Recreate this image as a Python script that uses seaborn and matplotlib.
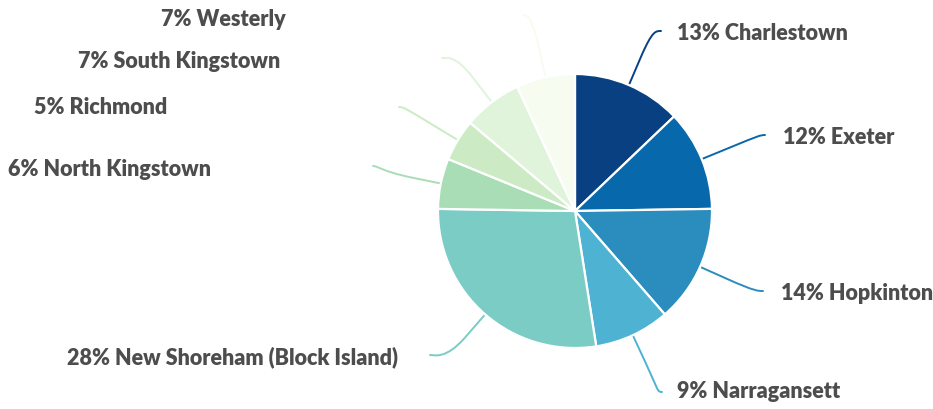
import numpy as np
import matplotlib
matplotlib.use("Agg")
import matplotlib.pyplot as plt
from matplotlib.path import Path
from matplotlib.patches import PathPatch
import seaborn as sns

# ---- data ----
towns = ["Charlestown", "Exeter", "Hopkinton", "Narragansett",
         "New Shoreham (Block Island)", "North Kingstown", "Richmond",
         "South Kingstown", "Westerly"]
shares = [13, 12, 14, 9, 28, 6, 5, 7, 7]
hex_colors = ["#084081", "#0868ac", "#2b8cbe", "#4eb3d3", "#7bccc4",
              "#a8ddb5", "#ccebc5", "#e0f3db", "#f7fcf0"]

# ---- layout (pixel space, y measured from top) ----
W, H = 933, 409
CX, CY, R = 575, 211, 137
# connector end points (label anchors)
anchor_x = [661, 765, 763, 662, 430, 373, 399, 442, 523]
anchor_y = [31, 135, 291, 392, 355, 166, 107, 58, 15]
# text positions
text_x = [677, 783, 781, 677, 398, 211, 167, 280, 286]
text_y = [33, 138, 294, 392, 357, 169, 107, 62, 19]
text_ha = ["left", "left", "left", "left", "right", "right", "right", "right", "right"]

sns.set_theme(style="white")
plt.rcParams["font.family"] = ["Lato", "DejaVu Sans"]
palette = sns.color_palette(hex_colors)

fig = plt.figure(figsize=(W / 100, H / 100), dpi=100)
ax = fig.add_axes([0, 0, 1, 1])

ax.pie(shares, colors=palette, startangle=90, counterclock=False,
       center=(CX, H - CY), radius=R,
       wedgeprops=dict(edgecolor="white", linewidth=1.6))

total = float(sum(shares))
cum = np.cumsum(shares) - np.array(shares) / 2.0
break_d = 30
for i, (name, v) in enumerate(zip(towns, shares)):
    ang = np.deg2rad(90 - 360 * cum[i] / total)
    dx, dy = np.cos(ang), np.sin(ang)
    touch = np.array([CX + R * dx, (H - CY) + R * dy])
    brk = np.array([CX + (R + break_d) * dx, (H - CY) + (R + break_d) * dy])
    lab = np.array([anchor_x[i], H - anchor_y[i]])
    off = -5 if text_ha[i] == "left" else 5
    c1 = np.array([lab[0] + off, lab[1]])
    c2 = 2 * brk - touch
    verts = [tuple(lab), tuple(c1), tuple(c2), tuple(brk), tuple(touch)]
    codes = [Path.MOVETO, Path.CURVE4, Path.CURVE4, Path.CURVE4, Path.LINETO]
    ax.add_patch(PathPatch(Path(verts, codes), facecolor="none",
                           edgecolor=palette[i], linewidth=1.4,
                           capstyle="round", zorder=0))
    ax.text(text_x[i], H - text_y[i], f"{v}% {name}", ha=text_ha[i],
            va="center", fontsize=15.5, fontweight="heavy", color="#4d4d4d")

ax.set_xlim(0, W)
ax.set_ylim(0, H)
ax.set_aspect("equal")
ax.axis("off")
fig.savefig("out.png", dpi=100, facecolor="white")
